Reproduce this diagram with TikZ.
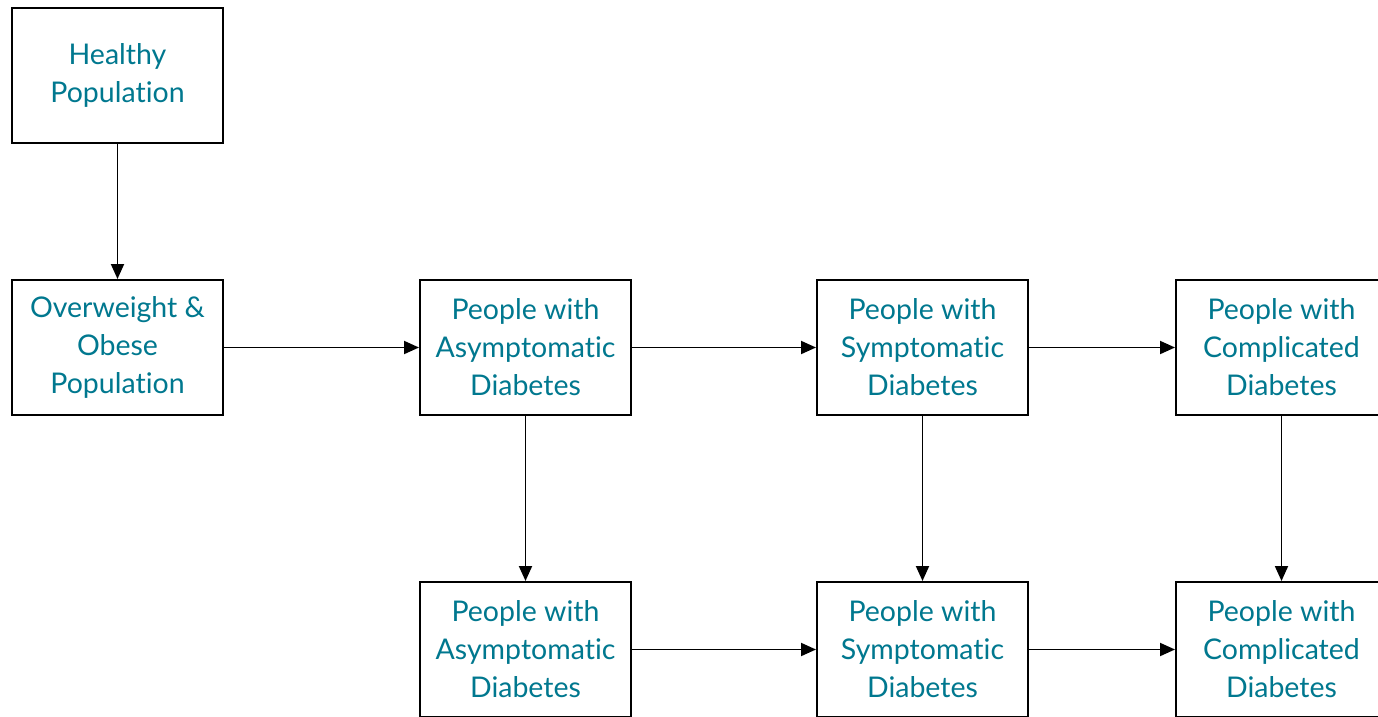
\documentclass[tikz,border=0pt]{standalone}
\usepackage{fontspec}
\setmainfont[Ligatures={NoCommon}]{Lato}
\usetikzlibrary{arrows.meta}
\definecolor{labelteal}{HTML}{00788F}
\tikzset{
  stagebox/.style={draw=black, line width=2pt, fill=white,
    minimum width=211pt, minimum height=135pt, inner sep=0pt,
    align=center, text=labelteal,
    font=\fontsize{28.5}{38}\selectfont},
  flow/.style={draw=black, line width=1.9pt,
    -{Triangle[length=15pt, width=13pt]}}
}
\begin{document}
\begin{tikzpicture}[x=1pt, y=-1pt]
  \useasboundingbox (0,0) rectangle (1378,717);
  \clip (0,0) rectangle (1378,717);
  % first column
  \node[stagebox] (healthy) at (117.5,75.5) {Healthy\\Population};
  \node[stagebox] (obese) at (117.5,347.5) {Overweight \&\\Obese\\Population};
  % upper row of disease stages
  \node[stagebox] (asymA) at (525.5,347.5) {People with\\Asymptomatic\\Diabetes};
  \node[stagebox] (symA) at (922.5,347.5) {People with\\Symptomatic\\Diabetes};
  \node[stagebox] (compA) at (1281.5,347.5) {People with\\Complicated\\Diabetes};
  % lower row of disease stages
  \node[stagebox] (asymB) at (525.5,649.5) {People with\\Asymptomatic\\Diabetes};
  \node[stagebox] (symB) at (922.5,649.5) {People with\\Symptomatic\\Diabetes};
  \node[stagebox] (compB) at (1281.5,649.5) {People with\\Complicated\\Diabetes};
  % connectors
  \draw[flow] (healthy) -- (obese);
  \draw[flow] (obese) -- (asymA);
  \draw[flow] (asymA) -- (symA);
  \draw[flow] (symA) -- (compA);
  \draw[flow] (asymA) -- (asymB);
  \draw[flow] (symA) -- (symB);
  \draw[flow] (compA) -- (compB);
  \draw[flow] (asymB) -- (symB);
  \draw[flow] (symB) -- (compB);
\end{tikzpicture}
\end{document}
